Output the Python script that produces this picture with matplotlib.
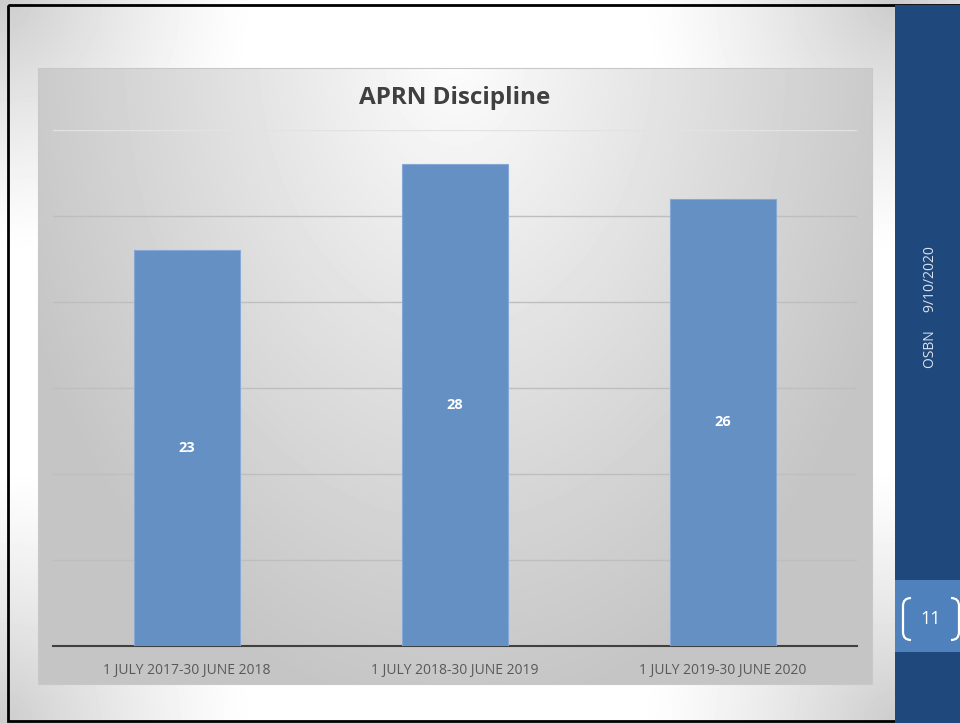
import numpy as np
import matplotlib.pyplot as plt
from matplotlib.patches import Rectangle, PathPatch
from matplotlib.path import Path

# 데이터
categories = ['1 JULY 2017-30 JUNE 2018', '1 JULY 2018-30 JUNE 2019', '1 JULY 2019-30 JUNE 2020']
counts = [23, 28, 26]
title = 'APRN Discipline'
footer = 'OSBN     9/10/2020'
page_no = '11'

W, H = 960, 723
fig = plt.figure(figsize=(W / 100, H / 100), dpi=100)

# 슬라이드 배경 (픽셀 좌표)
bg = fig.add_axes([0, 0, 1, 1])
bg.set_xlim(0, W)
bg.set_ylim(H, 0)
bg.axis('off')

yy, xx = np.mgrid[0:H, 0:W].astype(float)
shade = np.zeros((H, W))
for (px, py) in [(0, 0), (0, H), (895, 0), (895, H)]:
    d = np.sqrt((xx - px) ** 2 + (yy - py) ** 2)
    shade = np.maximum(shade, np.clip(1 - d / 260.0, 0, 1))
slide = 1 - 0.2 * shade ** 1.3
bg.imshow(slide, cmap='gray', vmin=0, vmax=1, extent=(0, W, H, 0), zorder=0)

# 차트 영역 그라데이션
cx0, cx1, cy0, cy1 = 38, 872, 68, 684
gy, gx = np.mgrid[cy0:cy1, cx0:cx1].astype(float)
rc = np.sqrt(((gx - 455) / 470.0) ** 2 + ((gy - 40) / 680.0) ** 2)
chart_bg = 1 - 0.23 * np.clip(rc, 0, 1) ** 0.9
bg.imshow(chart_bg, cmap='gray', vmin=0, vmax=1, extent=(cx0, cx1, cy1, cy0), zorder=1)
bg.add_patch(Rectangle((cx0, cy0), cx1 - cx0, cy1 - cy0, fill=False,
                       edgecolor='#C8C8C8', linewidth=0.8, zorder=2))

# 테두리와 오른쪽 사이드바
bg.add_patch(Rectangle((8, 5), W, H - 7, fill=False, edgecolor='black', linewidth=2, zorder=3))
bg.add_patch(Rectangle((895, 5), W - 895, H, facecolor='#1F497D', edgecolor='none', zorder=4))
bg.add_patch(Rectangle((895, 580), W - 895, 72, facecolor='#4F81BD', edgecolor='none', zorder=5))

bracket_l = Path([(911, 598), (903, 598), (903, 606), (903, 632), (903, 640), (911, 640)],
                 [Path.MOVETO, Path.CURVE3, Path.CURVE3, Path.LINETO, Path.CURVE3, Path.CURVE3])
bracket_r = Path([(951, 598), (959, 598), (959, 606), (959, 632), (959, 640), (951, 640)],
                 [Path.MOVETO, Path.CURVE3, Path.CURVE3, Path.LINETO, Path.CURVE3, Path.CURVE3])
for p in (bracket_l, bracket_r):
    bg.add_patch(PathPatch(p, facecolor='none', edgecolor='white', linewidth=1.6, zorder=6))
bg.text(931, 619, page_no, color='white', fontsize=13, family='Open Sans',
        ha='center', va='center', zorder=6)
bg.text(930, 307, footer, color='#DCE3EC', fontsize=10, family='Open Sans',
        rotation=90, ha='center', va='center', zorder=6)

bg.text(455, 98, title, color='#404040', fontsize=17.5, fontweight='bold', family='Open Sans',
        ha='center', va='center', zorder=6)

# 막대 그래프
ax = fig.add_axes([53 / W, (H - 646) / H, 804 / W, (646 - 130) / H])
ax.patch.set_alpha(0)
x = np.arange(len(categories))
bars = ax.bar(x, counts, width=0.395, color='#6490C4', edgecolor='#86A8D6', linewidth=0.8, zorder=3)
for b, v in zip(bars, counts):
    ax.text(b.get_x() + b.get_width() / 2, v / 2, str(v), color='white', fontsize=10.5,
            fontweight='bold', family='Open Sans', ha='center', va='center', zorder=4)

ax.set_xlim(-0.5, 2.5)
ax.set_ylim(0, 30)
ax.set_yticks([5, 10, 15, 20, 25, 30])
ax.yaxis.grid(True, color='#BEBEBE', linewidth=1, zorder=1)
ax.get_ygridlines()[-1].set_color('#E2E2E2')
ax.tick_params(axis='y', left=False, labelleft=False)
ax.set_xticks(x)
ax.set_xticklabels(categories, color='#595959', fontsize=10, family='Open Sans')
ax.tick_params(axis='x', length=0, pad=12)
for s in ('top', 'right', 'left'):
    ax.spines[s].set_visible(False)
ax.spines['bottom'].set_color('#404040')
ax.spines['bottom'].set_linewidth(1.5)

fig.savefig('out.png', dpi=100)
